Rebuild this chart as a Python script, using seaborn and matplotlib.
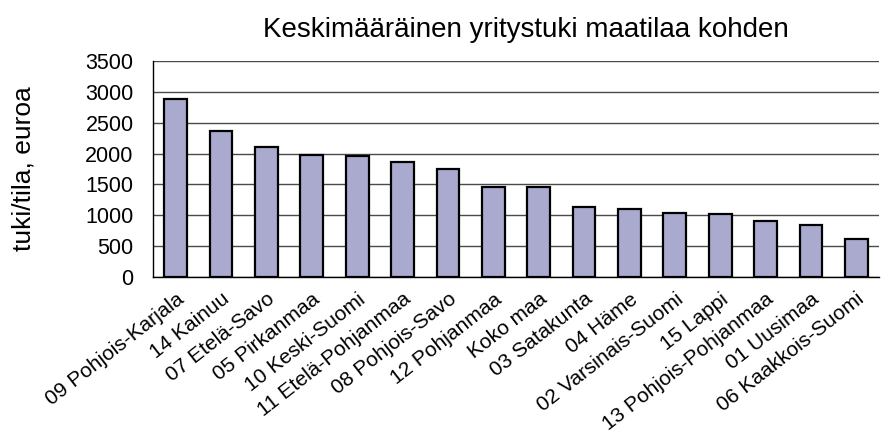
import matplotlib
matplotlib.use("Agg")
import matplotlib.pyplot as plt
import seaborn as sns
import numpy as np
import pandas as pd

regions = ["09 Pohjois-Karjala", "14 Kainuu", "07 Etelä-Savo", "05 Pirkanmaa",
           "10 Keski-Suomi", "11 Etelä-Pohjanmaa", "08 Pohjois-Savo", "12 Pohjanmaa",
           "Koko maa", "03 Satakunta", "04 Häme", "02 Varsinais-Suomi", "15 Lappi",
           "13 Pohjois-Pohjanmaa", "01 Uusimaa", "06 Kaakkois-Suomi"]
support = [2880, 2365, 2100, 1980, 1955, 1865, 1755, 1460,
           1460, 1135, 1110, 1045, 1015, 905, 850, 610]
yticks = [0, 500, 1000, 1500, 2000, 2500, 3000, 3500]

df = pd.DataFrame({"alue": regions, "tuki": support})

sns.set_style("white")
plt.rcParams["font.family"] = ["Liberation Sans", "DejaVu Sans"]
plt.rcParams["text.color"] = "black"
plt.rcParams["axes.labelcolor"] = "black"
plt.rcParams["xtick.color"] = "black"
plt.rcParams["ytick.color"] = "black"

fig = plt.figure(figsize=(8.82, 4.36), dpi=100)
ax = fig.add_axes([0.1735, 0.3647, 0.8231, 0.4953])

sns.barplot(data=df, x="alue", y="tuki", color="#AAAACF", saturation=1,
            edgecolor="black", linewidth=1.6, width=0.5, ax=ax, zorder=3)

ax.set_ylim(0, 3500)
ax.set_xlim(-0.5, len(regions) - 0.5)
ax.set_yticks(yticks)
ax.yaxis.grid(True, color="#4a4a4a", linewidth=1.0, zorder=0)
ax.set_axisbelow(True)

for s in ["top", "right"]:
    ax.spines[s].set_visible(False)
for s in ["left", "bottom"]:
    ax.spines[s].set_color("black")
    ax.spines[s].set_linewidth(1.0)

# tick marks between categories, labels on categories
ax.set_xticks(np.arange(len(regions) + 1) - 0.5, minor=True)
ax.tick_params(axis="x", which="minor", length=6, width=1, color="black", direction="out")
ax.tick_params(axis="x", which="major", length=0, pad=9, labelcolor="black")
ax.tick_params(axis="y", length=6, width=1, color="black", direction="out",
               labelsize=15.5, pad=8, labelcolor="black")
ax.set_xticks(range(len(regions)))
ax.set_xticklabels(regions, rotation=38, ha="right", rotation_mode="anchor", fontsize=15)

ax.set_xlabel("")
ax.set_ylabel("tuki/tila, euroa", fontsize=19, color="black")
ax.yaxis.set_label_coords(-0.1625, 0.5)
ax.set_title("Keskimääräinen yritystuki maatilaa kohden", fontsize=20, pad=17, x=0.514,
             color="black")

fig.savefig("out.png", dpi=100)
